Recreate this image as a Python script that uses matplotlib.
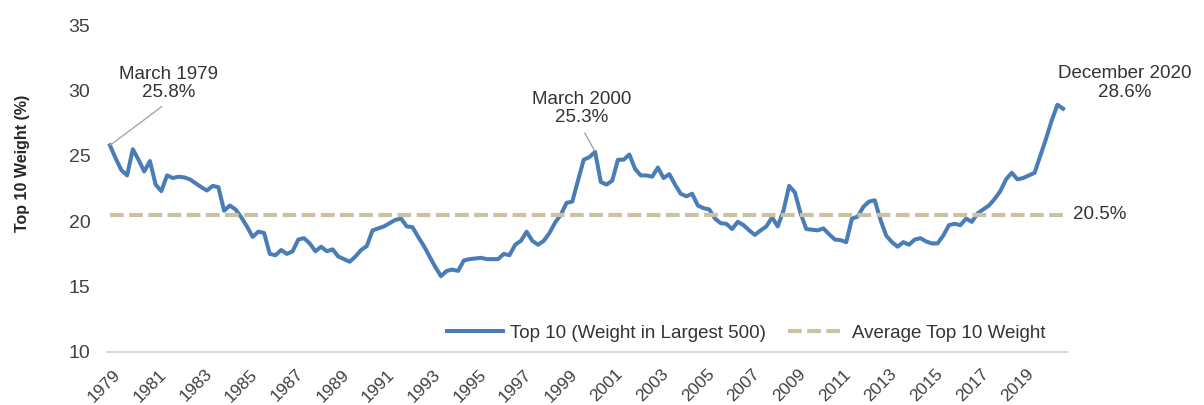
import numpy as np
import pandas as pd
import matplotlib.pyplot as plt
import matplotlib.transforms as mtransforms

plt.rcParams['font.family'] = ['Liberation Sans', 'DejaVu Sans']

# quarterly weight of the 10 largest stocks in the top 500, 1979Q1 - 2020Q4
top10_weight = [
    25.8, 24.8, 23.9, 23.5, 25.5, 24.7, 23.8, 24.6, 22.8, 22.3,
    23.5, 23.3, 23.4, 23.35, 23.2, 22.9, 22.6, 22.35, 22.7, 22.6,
    20.8, 21.2, 20.9, 20.3, 19.6, 18.8, 19.2, 19.1, 17.5, 17.4,
    17.8, 17.5, 17.7, 18.6, 18.7, 18.3, 17.7, 18.05, 17.7, 17.85,
    17.3, 17.1, 16.9, 17.3, 17.8, 18.1, 19.3, 19.45, 19.6, 19.85,
    20.1, 20.2, 19.6, 19.55, 18.8, 18.1, 17.3, 16.5, 15.8, 16.2,
    16.3, 16.2, 17.0, 17.1, 17.15, 17.2, 17.1, 17.1, 17.1, 17.5,
    17.4, 18.2, 18.5, 19.2, 18.5, 18.2, 18.5, 19.1, 19.9, 20.5,
    21.4, 21.5, 23.1, 24.7, 24.9, 25.3, 23.0, 22.8, 23.1, 24.7,
    24.7, 25.1, 24.0, 23.5, 23.5, 23.4, 24.1, 23.3, 23.6, 22.8,
    22.1, 21.9, 22.1, 21.2, 21.0, 20.9, 20.2, 19.85, 19.8, 19.4,
    19.95, 19.7, 19.3, 18.95, 19.3, 19.6, 20.3, 19.6, 20.8, 22.7,
    22.2, 20.6, 19.4, 19.35, 19.3, 19.45, 19.0, 18.6, 18.55, 18.4,
    20.2, 20.35, 21.1, 21.5, 21.6, 20.1, 18.9, 18.4, 18.05, 18.4,
    18.2, 18.6, 18.7, 18.45, 18.3, 18.3, 18.9, 19.7, 19.8, 19.7,
    20.2, 19.95, 20.6, 20.9, 21.2, 21.7, 22.3, 23.2, 23.7, 23.2,
    23.3, 23.5, 23.7, 25.0, 26.3, 27.7, 28.9, 28.6,
]
avg_weight = 20.5
year_ticks = list(range(1979, 2020, 2))
y_ticks = [10, 15, 20, 25, 30, 35]

quarters = pd.period_range('1979Q1', '2020Q4', freq='Q')
x = quarters.year + (quarters.quarter - 1) / 4
y = np.array(top10_weight)

blue = '#4a7db8'
tan = '#c9c3a3'
txt = '#404040'

fig = plt.figure(figsize=(12.04, 4.05), dpi=100)
ax = fig.add_axes([107/1204, 53/405, 960/1204, 327/405])

ax.plot(x, y, color=blue, lw=2.9, solid_joinstyle='round',
        label='Top 10 (Weight in Largest 500)')
ax.hlines(avg_weight, x[0], x[-1], color=tan, lw=3,
          linestyle=(0, (3.3, 1.3)), label='Average Top 10 Weight')

ax.set_xlim(1978.87, 2020.92)
ax.set_ylim(10, 35)
ax.set_xticks(year_ticks)
ax.set_xticklabels([str(v) for v in year_ticks], rotation=45, ha='right',
                   va='top', rotation_mode='anchor', fontsize=12.5, color=txt)
ax.set_yticks(y_ticks)
ax.set_yticklabels([str(v) for v in y_ticks], fontsize=14, color=txt)
ax.tick_params(axis='x', length=0, pad=10.5)
ax.tick_params(axis='y', length=0, pad=12)
for lbl in ax.get_xticklabels():
    lbl.set_transform(lbl.get_transform() + mtransforms.ScaledTranslation(0.03, 0, fig.dpi_scale_trans))

for s in ['top', 'right', 'left']:
    ax.spines[s].set_visible(False)
ax.spines['bottom'].set_color('#d9d9d9')
ax.spines['bottom'].set_linewidth(1.5)

fig.text(22/1204, 1 - 163/405, 'Top 10 Weight (%)', rotation=90, ha='center',
         va='center', fontsize=11.5, fontweight='bold', color='#262626')

# callouts
ann = dict(fontsize=13.5, color='#333333', ha='center', va='center',
           multialignment='center', linespacing=1.1, textcoords='offset points')
i0 = 0
ax.annotate(f'March 1979\n{top10_weight[i0]}%', xy=(x[i0], y[i0]), xytext=(42.5, 44.5),
            arrowprops=dict(arrowstyle='-', color='#a6a6a6', lw=1, relpos=(0.5, 0),
                            shrinkA=3, shrinkB=0), **ann)
i_pk = int(np.argmax(y[80:95])) + 80
ax.annotate(f'March 2000\n{top10_weight[i_pk]}%', xy=(x[i_pk], y[i_pk]), xytext=(-10, 31),
            arrowprops=dict(arrowstyle='-', color='#a6a6a6', lw=1, relpos=(0.5, 0),
                            shrinkA=3, shrinkB=1), **ann)
ax.annotate(f'December 2020\n{top10_weight[-1]}%', xy=(x[-1], y[-1]), xytext=(44.5, 18.5), **ann)
ax.annotate(f'{avg_weight}%', xy=(x[-1], avg_weight), xytext=(7, 0), textcoords='offset points',
            ha='left', va='center', fontsize=13.5, color='#333333')

ax.legend(loc='center left', bbox_to_anchor=(0.354, 0.058), ncol=2, frameon=False,
          fontsize=13.5, handlelength=3.0, handletextpad=0.37, columnspacing=1.2,
          borderpad=0, borderaxespad=0, labelcolor='#333333')

fig.savefig('out.png', dpi=100, facecolor='white')
